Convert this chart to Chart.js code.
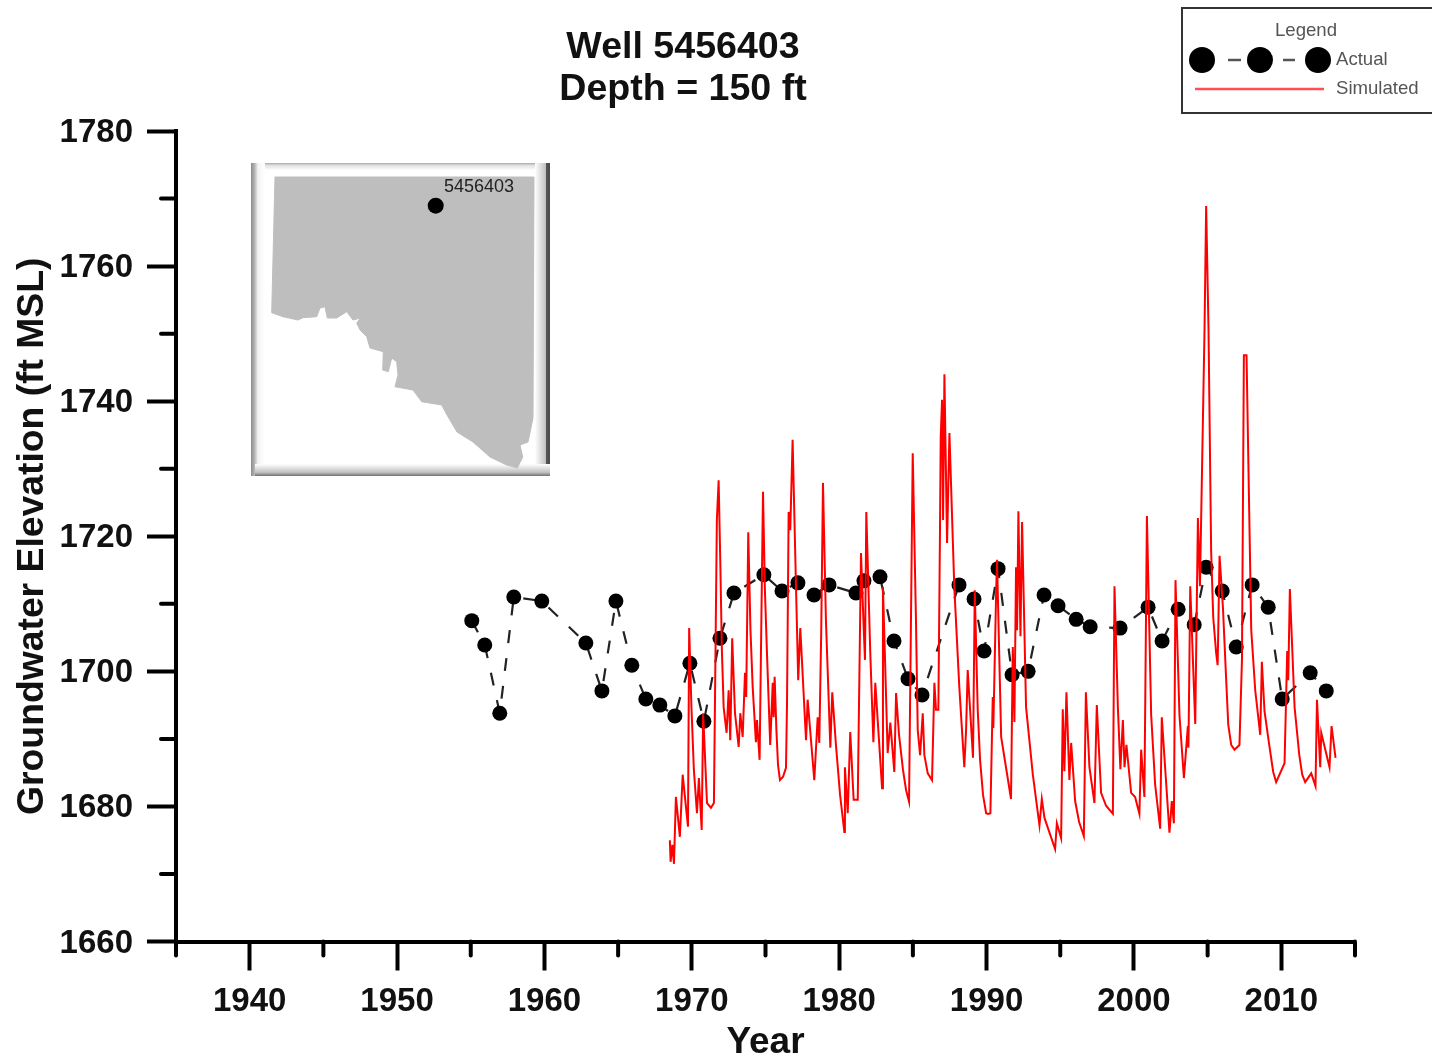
<!DOCTYPE html>
<html>
<head>
<meta charset="utf-8">
<title>Well 5456403</title>
<script src="https://cdn.jsdelivr.net/npm/chart.js@4/dist/chart.umd.min.js"></script>
<style>
  html, body { margin: 0; padding: 0; background: #fff; }
  #wrap { position: relative; width: 1432px; height: 1059px; overflow: hidden; filter: blur(0.5px); }
  canvas { position: absolute; left: 0; top: 0; }
  svg { position: absolute; left: 0; top: 0; }
  text { font-family: "Liberation Sans", Arial, sans-serif; }
</style>
</head>
<body>
<div id="wrap">
  <canvas id="chart" width="1432" height="1059"></canvas>
  <svg width="1432" height="1059" viewBox="0 0 1432 1059">
    <defs>
      <linearGradient id="bevelTop" x1="0" y1="0" x2="0" y2="1"><stop offset="0" stop-color="#a8a8a8"/><stop offset="0.2" stop-color="#e0e0e0"/><stop offset="0.6" stop-color="#ffffff"/><stop offset="1" stop-color="#ffffff"/></linearGradient>
      <linearGradient id="bevelLeft" x1="0" y1="0" x2="1" y2="0"><stop offset="0" stop-color="#8c8c8c"/><stop offset="0.25" stop-color="#b4b4b4"/><stop offset="0.5" stop-color="#f4f4f4"/><stop offset="1" stop-color="#ffffff"/></linearGradient>
      <linearGradient id="bevelRight" x1="0" y1="0" x2="1" y2="0"><stop offset="0" stop-color="#ffffff"/><stop offset="0.72" stop-color="#c0c0c0"/><stop offset="0.75" stop-color="#555555"/><stop offset="1" stop-color="#4a4a4a"/></linearGradient>
      <linearGradient id="bevelBottom" x1="0" y1="0" x2="0" y2="1"><stop offset="0" stop-color="#ffffff"/><stop offset="0.7" stop-color="#c0c0c0"/><stop offset="1" stop-color="#707070"/></linearGradient>
    </defs>

    <!-- chart title -->
    <text x="683" y="58" font-size="37.6" font-weight="bold" text-anchor="middle" fill="#111">Well 5456403</text>
    <text x="683" y="100" font-size="37.6" font-weight="bold" text-anchor="middle" fill="#111">Depth = 150 ft</text>

    <!-- legend box -->
    <rect x="1182" y="8" width="262" height="105" fill="#fff" stroke="#333" stroke-width="2"/>
    <text x="1306" y="36" font-size="18.6" text-anchor="middle" fill="#555">Legend</text>
    <circle cx="1202" cy="60" r="13" fill="#000"/>
    <circle cx="1260" cy="60" r="13" fill="#000"/>
    <circle cx="1318" cy="60" r="13" fill="#000"/>
    <line x1="1228" y1="60" x2="1241" y2="60" stroke="#555" stroke-width="2.5"/>
    <line x1="1283" y1="60" x2="1295" y2="60" stroke="#555" stroke-width="2.5"/>
    <text x="1336" y="65" font-size="18.6" fill="#555">Actual</text>
    <line x1="1195" y1="89" x2="1324" y2="89" stroke="#ff5050" stroke-width="2.5"/>
    <text x="1336" y="94" font-size="18.6" fill="#555">Simulated</text>

    <!-- location inset -->
    <rect x="251" y="163" width="299" height="313" fill="#fff"/>
    <rect x="251" y="163" width="299" height="12" fill="url(#bevelTop)"/>
    <rect x="251" y="163" width="14" height="313" fill="url(#bevelLeft)"/>
    <rect x="535" y="163" width="15" height="313" fill="url(#bevelRight)"/>
    <rect x="255" y="464" width="295" height="12" fill="url(#bevelBottom)"/>
    <polygon fill="#bebebe" stroke="#bebebe" stroke-width="1" stroke-linejoin="round" points="275,177 534,177 533,418 528,442 520,445 522.7,457 517.3,468 506.7,465 490,457 473,442 457,432 447,415 441.7,405 421.7,401.7 413,390 395,386.7 398,375 396.7,361.7 391.7,358 388.3,371.7 382.7,370 383.3,351.7 370,348 366.7,336.7 360,330 356.7,323 360.7,318 353,320 346.7,311.7 336.7,318 327.3,318 325,306.7 320,308 316.7,316.7 303,317.7 298,320 283,316.7 271.7,312.7"/>
    <circle cx="435.7" cy="205.7" r="8" fill="#000"/>
    <text x="444" y="192" font-size="18" fill="#222">5456403</text>
  </svg>
</div>
<script>
var actualYears = [1955.07, 1955.95, 1956.97, 1957.92, 1959.82, 1962.81, 1963.9, 1964.85, 1965.93, 1966.88,
  1967.83, 1968.85, 1969.87, 1970.82, 1971.91, 1972.86, 1974.89, 1976.12, 1977.2, 1978.29,
  1979.31, 1981.14, 1981.68, 1982.77, 1983.72, 1984.67, 1985.62, 1988.13, 1989.15, 1989.83,
  1990.78, 1991.73, 1992.82, 1993.9, 1994.85, 1996.08, 1997.03, 1999.06, 2000.96, 2001.91,
  2003.0, 2004.09, 2004.9, 2005.99, 2006.94, 2008.02, 2009.11, 2010.06, 2011.96, 2013.05];
var actualElev = [1707.5, 1703.9, 1693.8, 1711.0, 1710.4, 1704.2, 1697.1, 1710.4, 1700.9, 1695.9,
  1695.0, 1693.4, 1701.2, 1692.6, 1704.9, 1711.6, 1714.3, 1711.9, 1713.1, 1711.3,
  1712.8, 1711.6, 1713.4, 1714.0, 1704.5, 1698.9, 1696.5, 1712.8, 1710.7, 1703.0,
  1715.2, 1699.5, 1700.0, 1711.3, 1709.7, 1707.7, 1706.6, 1706.4, 1709.5, 1704.5,
  1709.2, 1706.9, 1715.4, 1711.9, 1703.6, 1712.8, 1709.5, 1695.9, 1699.8, 1697.1];

var simYears = [1968.51, 1968.56, 1968.68, 1968.79, 1968.92, 1969.19, 1969.38, 1969.74, 1969.82, 1969.97, 1970.14, 1970.35,
  1970.48, 1970.67, 1970.77, 1971.03, 1971.30, 1971.50, 1971.70, 1971.82, 1971.93, 1972.04, 1972.16,
  1972.36, 1972.50, 1972.61, 1972.74, 1972.93, 1973.18, 1973.29, 1973.45, 1973.61, 1973.69,
  1973.83, 1973.98, 1974.13, 1974.35, 1974.42, 1974.60, 1974.83, 1974.96, 1975.10, 1975.32, 1975.49, 1975.55,
  1975.62, 1975.74, 1975.85, 1975.98, 1976.19, 1976.39, 1976.46, 1976.57, 1976.68, 1976.84, 1977.07, 1977.22, 1977.36,
  1977.75, 1977.86, 1978.31, 1978.54, 1978.65, 1978.78, 1978.90, 1979.10, 1979.40, 1979.53, 1979.78, 1980.06,
  1980.35, 1980.39, 1980.58, 1980.75, 1980.98, 1981.26, 1981.48, 1981.66, 1981.75, 1981.84,
  1982.11, 1982.32, 1982.45, 1982.91, 1982.97, 1983.29, 1983.47, 1983.74, 1983.86, 1984.06, 1984.33, 1984.54, 1984.74,
  1984.99, 1985.21, 1985.33, 1985.49, 1985.67, 1985.78, 1986.01, 1986.30, 1986.46, 1986.57,
  1986.73, 1986.84, 1986.89, 1986.98, 1987.05, 1987.14, 1987.32, 1987.48, 1987.81, 1988.15,
  1988.49, 1988.61, 1988.72, 1989.08, 1989.20, 1989.40, 1989.56, 1989.76, 1989.97, 1990.10, 1990.26, 1990.42, 1990.46,
  1990.65, 1990.71, 1990.99, 1991.66, 1991.78, 1991.89, 1992.00, 1992.07, 1992.16, 1992.30,
  1992.41, 1992.68, 1993.14, 1993.59, 1993.75, 1993.93, 1994.65, 1994.77, 1995.06, 1995.17,
  1995.28, 1995.42, 1995.62, 1995.74, 1996.01, 1996.28, 1996.60, 1996.74, 1996.98, 1997.32, 1997.48,
  1997.77, 1998.11, 1998.57, 1998.68, 1998.91, 1999.08, 1999.25, 1999.36, 1999.49, 1999.81, 2000.08,
  2000.37, 2000.49, 2000.71, 2000.88, 2001.17, 2001.44, 2001.78, 2001.89, 2002.41, 2002.57, 2002.71,
  2002.82, 2003.09, 2003.39, 2003.66, 2003.70, 2003.82, 2004.16, 2004.34, 2004.48, 2004.79, 2004.90, 2005.06,
  2005.24, 2005.38, 2005.58, 2005.68, 2005.81, 2006.04, 2006.26, 2006.40, 2006.60, 2006.82, 2007.16, 2007.33,
  2007.46, 2007.64, 2007.96, 2008.23, 2008.57, 2008.68, 2008.86, 2009.18, 2009.45, 2009.65, 2010.22, 2010.40, 2010.47,
  2010.58, 2010.90, 2011.22, 2011.42, 2011.62, 2012.03, 2012.32, 2012.42, 2012.64, 2012.71, 2013.27, 2013.41, 2013.68];
var simElev = [1675.0, 1671.8, 1674.3, 1671.5, 1681.4, 1675.5, 1684.7, 1677.0, 1706.4, 1695.0, 1685.4, 1679.0,
  1684.2, 1676.5, 1693.8, 1680.5, 1679.8, 1680.5, 1722.4, 1728.3, 1716.5, 1703.2, 1694.7,
  1690.9, 1697.2, 1689.8, 1704.9, 1693.8, 1688.8, 1693.8, 1690.3, 1699.8, 1696.2,
  1720.6, 1706.1, 1697.7, 1689.5, 1692.8, 1686.9, 1726.6, 1712.0, 1702.7, 1689.1, 1698.3, 1693.2,
  1699.2, 1691.3, 1686.1, 1683.9, 1684.4, 1685.7, 1695.3, 1723.6, 1720.9, 1734.3, 1712.5, 1698.7, 1706.4,
  1689.8, 1695.8, 1683.9, 1693.2, 1689.4, 1705.7, 1727.9, 1707.6, 1688.7, 1696.9, 1689.1, 1681.7,
  1676.2, 1685.8, 1679.0, 1691.0, 1681.0, 1681.0, 1717.5, 1706.6, 1701.7, 1723.6,
  1702.7, 1689.5, 1698.3, 1682.7, 1712.5, 1687.9, 1692.4, 1685.1, 1696.8, 1690.6, 1685.4, 1682.4, 1680.7,
  1732.3, 1707.6, 1691.3, 1687.6, 1693.8, 1687.6, 1684.9, 1683.9, 1698.3, 1694.3,
  1694.3, 1720.9, 1734.7, 1740.2, 1722.4, 1744.0, 1719.0, 1735.3, 1712.5, 1697.7,
  1685.8, 1691.3, 1700.2, 1687.2, 1712.0, 1694.3, 1686.9, 1681.7, 1679.0, 1678.9, 1679.0, 1696.2, 1691.6,
  1711.7, 1716.5, 1690.3, 1681.1, 1703.6, 1692.5, 1715.4, 1706.1, 1723.7, 1705.2,
  1722.1, 1694.7, 1684.7, 1677.2, 1681.1, 1678.3, 1673.7, 1677.5, 1675.3, 1694.4,
  1685.2, 1696.9, 1683.9, 1689.4, 1680.8, 1677.7, 1675.6, 1696.9, 1685.8, 1680.5, 1695.0,
  1682.0, 1680.1, 1678.9, 1712.6, 1694.7, 1685.5, 1692.8, 1685.8, 1689.1, 1682.0, 1681.4,
  1678.9, 1688.4, 1681.4, 1723.0, 1693.5, 1683.2, 1676.7, 1693.2, 1676.1, 1680.8, 1677.5,
  1713.5, 1693.5, 1684.2, 1691.9, 1688.7, 1712.6, 1692.2, 1722.7, 1712.6, 1750.7, 1768.9, 1750.7,
  1717.7, 1708.0, 1702.7, 1700.9, 1717.1, 1709.4, 1698.7, 1692.1, 1689.1, 1688.4, 1689.1, 1701.7,
  1746.8, 1746.8, 1706.1, 1697.2, 1690.6, 1701.4, 1694.1, 1689.1, 1685.1, 1683.6, 1686.4, 1703.0, 1698.7,
  1712.2, 1694.7, 1687.6, 1684.7, 1683.6, 1684.9, 1683.0, 1695.8, 1685.8, 1690.9, 1685.8, 1691.9, 1687.2];

var xTickLabels = [1940, 1950, 1960, 1970, 1980, 1990, 2000, 2010];
var yTickLabels = [1660, 1680, 1700, 1720, 1740, 1760, 1780];

function pairs(xs, ys) {
  return xs.map(function(x, i) { return {x: x, y: ys[i]}; });
}

// short ticks in between the labelled ones, placed by the scales themselves
var minorTicks = {
  id: 'minorTicks',
  afterDatasetsDraw: function(chart) {
    var ctx = chart.ctx, xs = chart.scales.x, ys = chart.scales.y;
    ctx.save();
    ctx.strokeStyle = '#000';
    ctx.lineWidth = 4;
    ctx.lineCap = 'round';
    xs.ticks.forEach(function(t) {
      if (xTickLabels.indexOf(t.value) < 0) {
        var px = xs.getPixelForValue(t.value);
        ctx.beginPath();
        ctx.moveTo(px, chart.chartArea.bottom);
        ctx.lineTo(px, chart.chartArea.bottom + 14);
        ctx.stroke();
      }
    });
    ys.ticks.forEach(function(t) {
      if (yTickLabels.indexOf(t.value) < 0) {
        var py = ys.getPixelForValue(t.value);
        ctx.beginPath();
        ctx.moveTo(chart.chartArea.left, py);
        ctx.lineTo(chart.chartArea.left - 15, py);
        ctx.stroke();
      }
    });
    ctx.restore();
  }
};

var fontFamily = '"Liberation Sans", Arial, sans-serif';

new Chart(document.getElementById('chart'), {
  type: 'scatter',
  plugins: [minorTicks],
  data: {
    datasets: [{
      label: 'Simulated',
      data: pairs(simYears, simElev),
      showLine: true,
      borderColor: '#ff0000',
      borderWidth: 2,
      pointRadius: 0,
      tension: 0
    }, {
      label: 'Actual',
      data: pairs(actualYears, actualElev),
      showLine: true,
      borderColor: '#222',
      borderWidth: 2.2,
      borderDash: [13, 15],
      pointRadius: 7.5,
      pointBackgroundColor: '#000',
      pointBorderColor: '#000',
      pointBorderWidth: 0,
      tension: 0
    }]
  },
  options: {
    responsive: false,
    animation: false,
    events: [],
    layout: {padding: {left: 0, right: 77, top: 131, bottom: 0}},
    plugins: {
      legend: {display: false},
      tooltip: {enabled: false},
      title: {display: false}
    },
    scales: {
      x: {
        type: 'linear',
        min: 1935,
        max: 2015,
        afterFit: function(scale) { scale.height = 117.5; },
        border: {display: true, color: '#000', width: 4},
        grid: {
          drawOnChartArea: false,
          drawTicks: true,
          tickLength: 29,
          tickWidth: 4,
          tickColor: function(c) {
            return xTickLabels.indexOf(c.tick.value) >= 0 ? '#000' : 'rgba(0,0,0,0)';
          }
        },
        ticks: {
          stepSize: 5,
          autoSkip: false,
          maxRotation: 0,
          padding: 12,
          color: '#111',
          font: {family: fontFamily, size: 33, weight: 'bold'},
          callback: function(v) { return xTickLabels.indexOf(v) >= 0 ? String(v) : ''; }
        },
        title: {
          display: true,
          text: 'Year',
          color: '#111',
          font: {family: fontFamily, size: 37, weight: 'bold', lineHeight: 0.9},
          padding: 0
        }
      },
      y: {
        type: 'linear',
        min: 1660,
        max: 1780,
        afterFit: function(scale) { scale.width = 176; },
        border: {display: true, color: '#000', width: 4},
        grid: {
          drawOnChartArea: false,
          drawTicks: true,
          tickLength: 29,
          tickWidth: 4,
          tickColor: function(c) {
            return yTickLabels.indexOf(c.tick.value) >= 0 ? '#000' : 'rgba(0,0,0,0)';
          }
        },
        ticks: {
          stepSize: 10,
          autoSkip: false,
          padding: 14,
          color: '#111',
          // lineHeight plus the blank first line nudges the digits 2px down to sit on the tick
          font: {family: fontFamily, size: 33, weight: 'bold', lineHeight: 0.12},
          callback: function(v) { return yTickLabels.indexOf(v) >= 0 ? ['', String(v)] : ''; }
        },
        title: {
          display: true,
          text: 'Groundwater Elevation (ft MSL)',
          color: '#111',
          font: {family: fontFamily, size: 37.3, weight: 'bold', lineHeight: 1},
          padding: {top: 14, bottom: 0}
        }
      }
    }
  }
});
</script>
</body>
</html>
